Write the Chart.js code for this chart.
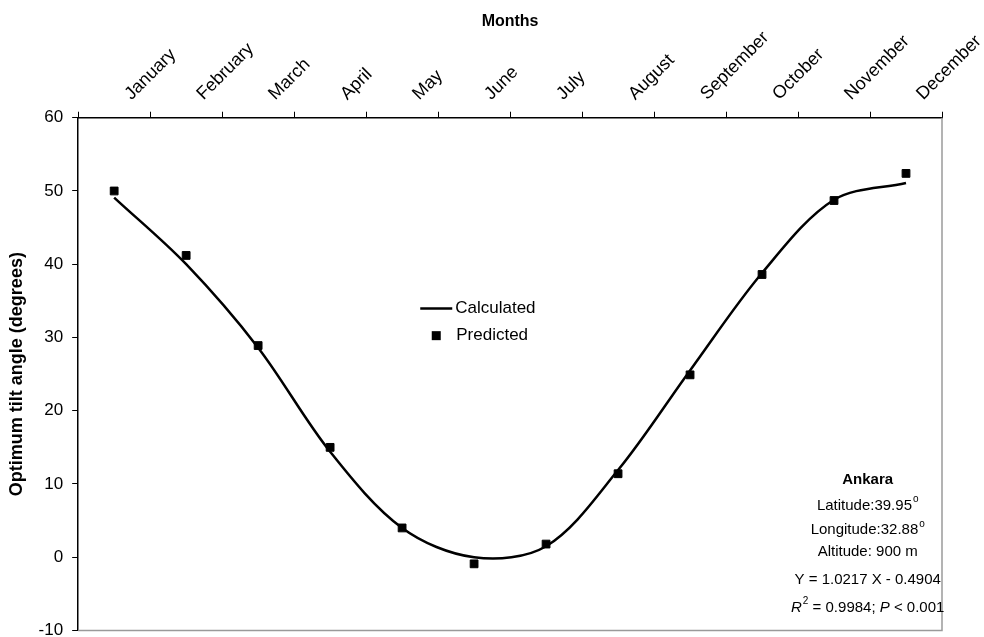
<!DOCTYPE html>
<html><head><meta charset="utf-8">
<script src="https://cdn.jsdelivr.net/npm/chart.js@4/dist/chart.umd.min.js"></script>
<style>html,body{margin:0;padding:0;background:#fff}#wrap{width:984px;height:637px;overflow:hidden}</style>
</head><body><div id="wrap"><canvas id="c" width="984" height="637"></canvas></div>
<script>
// ---- data ----
const months = ['January','February','March','April','May','June','July','August','September','October','November','December'];
const calculated = [49.1, 40.0, 28.6, 14.4, 4.0, 0.0, 1.5, 11.9, 25.5, 38.8, 48.8, 51.1];
const predicted  = [50.0, 41.2, 28.9, 15.0, 4.0, -0.9, 1.8, 11.4, 24.9, 38.6, 48.7, 52.4];
const yMin = -10, yMax = 60, yStep = 10;
const seriesNames = ['Calculated', 'Predicted'];
const noteLines = [
  [{t:'Ankara', w:'bold'}],
  [{t:'Latitude:39.95'}, {t:'o', sup:true}],
  [{t:'Longitude:32.88'}, {t:'o', sup:true}],
  [{t:'Altitude: 900 m'}],
  [{t:'Y = 1.0217 X - 0.4904'}],
  [{t:'R', s:'italic'}, {t:'2', sup:true}, {t:' = 0.9984; '}, {t:'P', s:'italic'}, {t:' < 0.001'}]
];

const FAM = "'Liberation Sans', Arial, Helvetica, sans-serif";
Chart.defaults.font.family = FAM;
Chart.defaults.color = '#000';

const framePlugin = {
  id:'frame',
  beforeDatasetsDraw(chart){
    const {ctx, chartArea:a} = chart;
    ctx.save();
    ctx.strokeStyle = '#9a9a9a'; ctx.lineWidth = 1.5;
    ctx.beginPath();
    ctx.moveTo(a.right, a.top); ctx.lineTo(a.right, a.bottom); ctx.lineTo(a.left, a.bottom);
    ctx.stroke();
    ctx.restore();
  }
};

const legendPlugin = {
  id:'insideLegend',
  afterDraw(chart){
    const {ctx, chartArea:a} = chart;
    const w = a.right - a.left, h = a.bottom - a.top;
    const x0 = a.left + 0.396*w;
    const y1 = a.top + 0.372*h, y2 = a.top + 0.425*h;
    const ds = chart.data.datasets;
    ctx.save();
    ctx.font = '17px ' + FAM; ctx.fillStyle = '#000'; ctx.textBaseline = 'middle';
    ctx.strokeStyle = ds[0].borderColor; ctx.lineWidth = 2.5;
    ctx.beginPath(); ctx.moveTo(x0, y1); ctx.lineTo(x0+32, y1); ctx.stroke();
    ctx.fillText(ds[0].label, x0+35, y1);
    ctx.fillStyle = ds[1].backgroundColor;
    ctx.fillRect(x0+16-4.5, y2-4.5, 9, 9);
    ctx.fillStyle = '#000';
    ctx.fillText(ds[1].label, x0+36, y2);
    ctx.restore();
  }
};

const notePlugin = {
  id:'note',
  afterDraw(chart){
    const {ctx, chartArea:a} = chart;
    const w = a.right - a.left, h = a.bottom - a.top;
    const cx = a.left + 0.914*w;
    const ys = [0.707, 0.756, 0.804, 0.847, 0.902, 0.955].map(f => a.top + f*h);
    ctx.save();
    ctx.fillStyle = '#000'; ctx.textBaseline = 'middle'; ctx.textAlign = 'left';
    const fontOf = (seg) => {
      const size = seg.sup ? 10 : 15;
      return (seg.s||'normal') + ' ' + (seg.w||'normal') + ' ' + size + 'px ' + FAM;
    };
    noteLines.forEach((line, i) => {
      let total = 0;
      line.forEach(seg => { ctx.font = fontOf(seg); total += ctx.measureText(seg.t).width + (seg.sup?1:0); });
      let x = cx - total/2;
      line.forEach(seg => {
        ctx.font = fontOf(seg);
        ctx.fillText(seg.t, x + (seg.sup?1:0), ys[i] - (seg.sup?6:0));
        x += ctx.measureText(seg.t).width + (seg.sup?1:0);
      });
    });
    ctx.restore();
  }
};

new Chart(document.getElementById('c'), {
  type:'line',
  data:{labels:months, datasets:[
    {label:seriesNames[0], data:calculated, borderColor:'#000', backgroundColor:'#000', borderWidth:2.5, pointRadius:0, tension:0.33, fill:false, order:2},
    {label:seriesNames[1], data:predicted, showLine:false, pointStyle:'rect', pointRadius:5.5, backgroundColor:'#000', borderColor:'#000', borderWidth:1, order:1}
  ]},
  options:{
    responsive:false, animation:false, devicePixelRatio:1,
    layout:{padding:{top:8, right:42, bottom:0, left:0}},
    plugins:{legend:{display:false}, tooltip:{enabled:false}},
    scales:{
      x:{position:'top', offset:true,
         grid:{offset:true, drawOnChartArea:false, tickLength:6, color:'#000'},
         border:{color:'#000', width:1.5},
         ticks:{autoSkip:false, minRotation:45, maxRotation:45, padding:7, labelOffset:29, font:{size:18}, color:'#000'},
         title:{display:true, text:'Months', font:{size:16, weight:'bold'}, padding:{top:4, bottom:-11}}},
      y:{min:yMin, max:yMax,
         afterFit(scale){ scale.paddingBottom = 0; },
         ticks:{stepSize:yStep, font:{size:17}, padding:9, color:'#000'},
         grid:{drawOnChartArea:false, tickLength:6, color:'#000'},
         border:{color:'#000', width:1.5},
         title:{display:true, text:'Optimum tilt angle (degrees)', font:{size:18, weight:'bold'}, padding:{top:6, bottom:2}}}
    }
  },
  plugins:[framePlugin, legendPlugin, notePlugin]
});
</script></body></html>
